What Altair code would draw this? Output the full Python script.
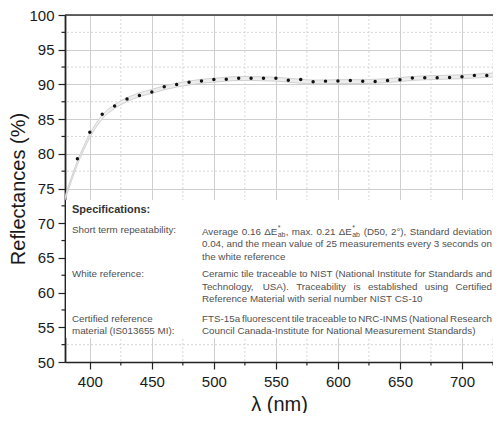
import altair as alt
import pandas as pd

# ---------------- data ----------------
wl_points = [390, 400, 410, 420, 430, 440, 450, 460, 470, 480, 490, 500, 510, 520, 530,
             540, 550, 560, 570, 580, 590, 600, 610, 620, 630, 640, 650, 660, 670, 680,
             690, 700, 710, 720]
refl_points = [79.3, 83.1, 85.7, 86.9, 87.9, 88.4, 88.9, 89.65, 90.0, 90.3, 90.5, 90.7,
               90.75, 90.9, 90.88, 90.88, 90.88, 90.6, 90.7, 90.37, 90.47, 90.5, 90.55,
               90.45, 90.42, 90.55, 90.68, 90.92, 90.95, 90.97, 90.98, 91.1, 91.3, 91.28]

wl_curve = [380, 390, 400, 410, 420, 430, 440, 450, 460, 470, 480, 490, 500, 510, 520,
            530, 540, 550, 560, 570, 580, 590, 600, 610, 620, 630, 640, 650, 660, 670,
            680, 690, 700, 710, 720, 730]
refl_curve = [73.6, 78.7, 82.6, 85.3, 86.8, 87.8, 88.5, 89.0, 89.5, 89.9, 90.2, 90.45,
              90.6, 90.75, 90.85, 90.85, 90.8, 90.75, 90.6, 90.45, 90.35, 90.35, 90.4,
              90.4, 90.4, 90.45, 90.55, 90.7, 90.85, 90.95, 91.0, 91.05, 91.1, 91.2,
              91.3, 91.4]
band_half = 0.28

x_ticks = [400, 450, 500, 550, 600, 650, 700]
x_minor = [425, 475, 525, 575, 625, 675, 725]
y_ticks = [50, 55, 60, 65, 70, 75, 80, 85, 90, 95, 100]
y_minor = [52.5, 57.5, 62.5, 67.5, 72.5, 77.5, 82.5, 87.5, 92.5, 97.5]

spec_title = "Specifications:"
spec_labels = [["Short term repeatability:"], ["White reference:"],
               ["Certified reference", "material (IS013655 MI):"]]
spec_texts = [
    [("Average 0.16 ΔE*ab, max. 0.21 ΔE*ab (D50, 2°), Standard deviation", True),
     ("0.04, and the mean value of 25 measurements every 3 seconds on", True),
     ("the white reference", False)],
    [("Ceramic tile traceable to NIST (National Institute for Standards and", True),
     ("Technology, USA). Traceability is established using Certified", True),
     ("Reference Material with serial number NIST CS-10", False)],
    [("FTS-15a fluorescent tile traceable to NRC-INMS (National Research", True),
     ("Council Canada-Institute for National Measurement Standards)", False)],
]

# ---------------- layout ----------------
W, H = 428, 347
X0, X1 = 380, 725
Y0, Y1 = 50, 100
PX0, PY0 = 65, 15          # page position of plot origin
FONT = "Liberation Sans"

# Arial / Liberation Sans advance widths (per 1000 em)
AW = {' ': 278, '(': 333, ')': 333, '*': 389, ',': 278, '-': 333, '.': 278, ':': 278,
      '°': 400, 'Δ': 668}
for c in "0123456789":
    AW[c] = 556
AW.update(dict(zip("ABCDEFGHIJKLMNOPQRSTUVWXYZ",
                   [667, 667, 722, 722, 667, 611, 778, 722, 278, 500, 667, 556, 833,
                    722, 778, 667, 778, 722, 667, 611, 722, 667, 944, 667, 667, 611])))
AW.update(dict(zip("abcdefghijklmnopqrstuvwxyz",
                   [556, 556, 500, 556, 556, 278, 556, 556, 222, 222, 500, 222, 833,
                    556, 556, 556, 556, 333, 500, 278, 556, 500, 722, 500, 500, 500])))


def tw(s, size):
    return sum(AW.get(c, 556) for c in s) * size / 1000.0


def pieces(word):
    if "ΔE*ab" in word:
        i = word.index("ΔE*ab")
        out = []
        if word[:i]:
            out.append((word[:i], 'n'))
        out += [("ΔE", 'n'), ("*", 'sup'), ("ab", 'sub')]
        if word[i + 5:]:
            out.append((word[i + 5:], 'n'))
        return out
    return [(word, 'n')]


FS, FS_SMALL = 9.8, 7


def word_width(word):
    w = 0.0
    ps = pieces(word)
    k = 0
    while k < len(ps):
        t, kind = ps[k]
        if kind == 'sup' and k + 1 < len(ps) and ps[k + 1][1] == 'sub':
            w += max(tw(t, FS_SMALL), tw(ps[k + 1][0], FS_SMALL)) + 0.6
            k += 2
            continue
        w += tw(t, FS if kind == 'n' else FS_SMALL)
        k += 1
    return w


def to_data(px, py):
    return (X0 + (px - PX0) * (X1 - X0) / W, Y1 - (py - PY0) * (Y1 - Y0) / H)


rows = []
bold_rows = []
TXT = "#505050"


def add(text, px, py, size, color, target=None):
    xd, yd = to_data(px, py)
    (rows if target is None else target).append(
        dict(t=text, xd=xd, yd=yd, fs=size, col=color))


def place_line(line, justify, left, right, py):
    words = line.split(" ")
    widths = [word_width(w) for w in words]
    if justify and len(words) > 1:
        gap = (right - left - sum(widths)) / (len(words) - 1)
    else:
        gap = tw(" ", FS)
    x = left
    for w, wd in zip(words, widths):
        ps = pieces(w)
        k, cx = 0, x
        while k < len(ps):
            t, kind = ps[k]
            if kind == 'sup' and k + 1 < len(ps) and ps[k + 1][1] == 'sub':
                add(t, cx + 0.3, py - 4, FS_SMALL, TXT)
                add(ps[k + 1][0], cx + 0.3, py + 3, FS_SMALL, TXT)
                cx += max(tw(t, FS_SMALL), tw(ps[k + 1][0], FS_SMALL)) + 0.6
                k += 2
                continue
            add(t, cx, py, FS, TXT)
            cx += tw(t, FS)
            k += 1
        x += wd + gap


LEFT_COL, RIGHT_COL, RIGHT_EDGE = 72, 202, 492
add(spec_title, LEFT_COL, 209.5, 11, "#333333", bold_rows)
label_y = [[230], [274], [318.5, 331]]
text_y = [[231.5, 244, 256.5], [274, 286.5, 299], [318.5, 331]]
for labs, ys in zip(spec_labels, label_y):
    for lab, yy in zip(labs, ys):
        add(lab, LEFT_COL, yy, FS, TXT)
for para, ys in zip(spec_texts, text_y):
    for (line, just), yy in zip(para, ys):
        place_line(line, just, RIGHT_COL, RIGHT_EDGE, yy)

ann = pd.DataFrame(rows)
ann_b = pd.DataFrame(bold_rows)

pts = pd.DataFrame({"wl": wl_points, "r": refl_points})
crv = pd.DataFrame({"wl": wl_curve, "r": refl_curve})
crv["lo"] = crv["r"] - band_half
crv["hi"] = crv["r"] + band_half

xscale = alt.Scale(domain=[X0, X1], nice=False, zero=False)
yscale = alt.Scale(domain=[Y0, Y1], nice=False, zero=False)

xaxis = alt.Axis(values=x_ticks, grid=True, gridColor="#cfcfcf", gridWidth=1,
                 domainColor="#222222", domainWidth=1.6, tickColor="#222222",
                 tickSize=7, tickWidth=1.2, labelFontSize=15, labelColor="#1a1a1a",
                 labelPadding=5, labelOverlap=False, title="λ (nm)", titleFontSize=20,
                 titleFontWeight="normal", titleColor="#1a1a1a", titlePadding=5,
                 labelFont=FONT, titleFont=FONT)
yaxis = alt.Axis(values=y_ticks, grid=True, gridColor="#cfcfcf", gridWidth=1,
                 domainColor="#222222", domainWidth=1.8, tickColor="#222222",
                 tickSize=7, tickWidth=1.2, labelFontSize=15, labelColor="#1a1a1a",
                 labelPadding=4, labelOverlap=False, title="Reflectances (%)",
                 titleFontSize=20, titleFontWeight="normal", titleColor="#1a1a1a",
                 titlePadding=0, labelFont=FONT, titleFont=FONT)


def X(field):
    return alt.X(field, scale=xscale, axis=xaxis)


def Y(field):
    return alt.Y(field, scale=yscale, axis=yaxis)


dummy = pd.DataFrame({"a": [0]})

minor_x = alt.Chart(pd.DataFrame({"wl": x_minor})).mark_rule(
    color="#d6d6d6", strokeDash=[2, 2], strokeWidth=1).encode(x=X("wl:Q"))
minor_y = alt.Chart(pd.DataFrame({"r": y_minor})).mark_rule(
    color="#d6d6d6", strokeDash=[2, 2], strokeWidth=1).encode(y=Y("r:Q"))

box = alt.Chart(dummy).mark_rect(color="white").encode(
    x=alt.value(1), x2=alt.value(W), y=alt.value(185), y2=alt.value(323))

minor_xt = alt.Chart(pd.DataFrame({"wl": x_minor})).mark_rule(
    color="#222222", strokeWidth=1.2).encode(
    x=X("wl:Q"), y=alt.value(H), y2=alt.value(H + 3.5))
minor_yt = alt.Chart(pd.DataFrame({"r": y_minor})).mark_rule(
    color="#222222", strokeWidth=1.2).encode(
    y=Y("r:Q"), x=alt.value(-3.5), x2=alt.value(0))

band = alt.Chart(crv).mark_area(color="#eeeeee", interpolate="monotone", clip=True).encode(
    x=X("wl:Q"), y=Y("lo:Q"), y2="hi:Q")
band_lo = alt.Chart(crv).mark_line(color="#cccccc", strokeWidth=0.9,
                                   interpolate="monotone", clip=True).encode(
    x=X("wl:Q"), y=Y("lo:Q"))
band_hi = alt.Chart(crv).mark_line(color="#cccccc", strokeWidth=0.9,
                                   interpolate="monotone", clip=True).encode(
    x=X("wl:Q"), y=Y("hi:Q"))

dots = alt.Chart(pts).mark_circle(color="#111111", size=12, opacity=1).encode(
    x=X("wl:Q"), y=Y("r:Q"))

top_border = alt.Chart(dummy).mark_rule(color="#333333", strokeWidth=1.5).encode(
    x=alt.value(0), x2=alt.value(W), y=alt.value(0))

texts = alt.Chart(ann).mark_text(align="left", baseline="middle", font=FONT).encode(
    x=X("xd:Q"), y=Y("yd:Q"),
    text="t:N", size=alt.Size("fs:Q", scale=None),
    color=alt.Color("col:N", scale=None))
texts_b = alt.Chart(ann_b).mark_text(align="left", baseline="middle", font=FONT,
                                     fontWeight="bold").encode(
    x=X("xd:Q"), y=Y("yd:Q"),
    text="t:N", size=alt.Size("fs:Q", scale=None),
    color=alt.Color("col:N", scale=None))

chart = alt.layer(minor_x, minor_y, box, minor_xt, minor_yt, band, band_lo, band_hi,
                  dots, top_border, texts, texts_b).properties(
    width=W, height=H,
    autosize=alt.AutoSizeParams(type="none"),
    padding={"left": PX0 - 8, "top": PY0 - 8, "right": 0, "bottom": 51},
).configure_view(stroke=None).configure(font=FONT)

chart.save("out.html", embed_options={"renderer": "svg", "actions": False})
